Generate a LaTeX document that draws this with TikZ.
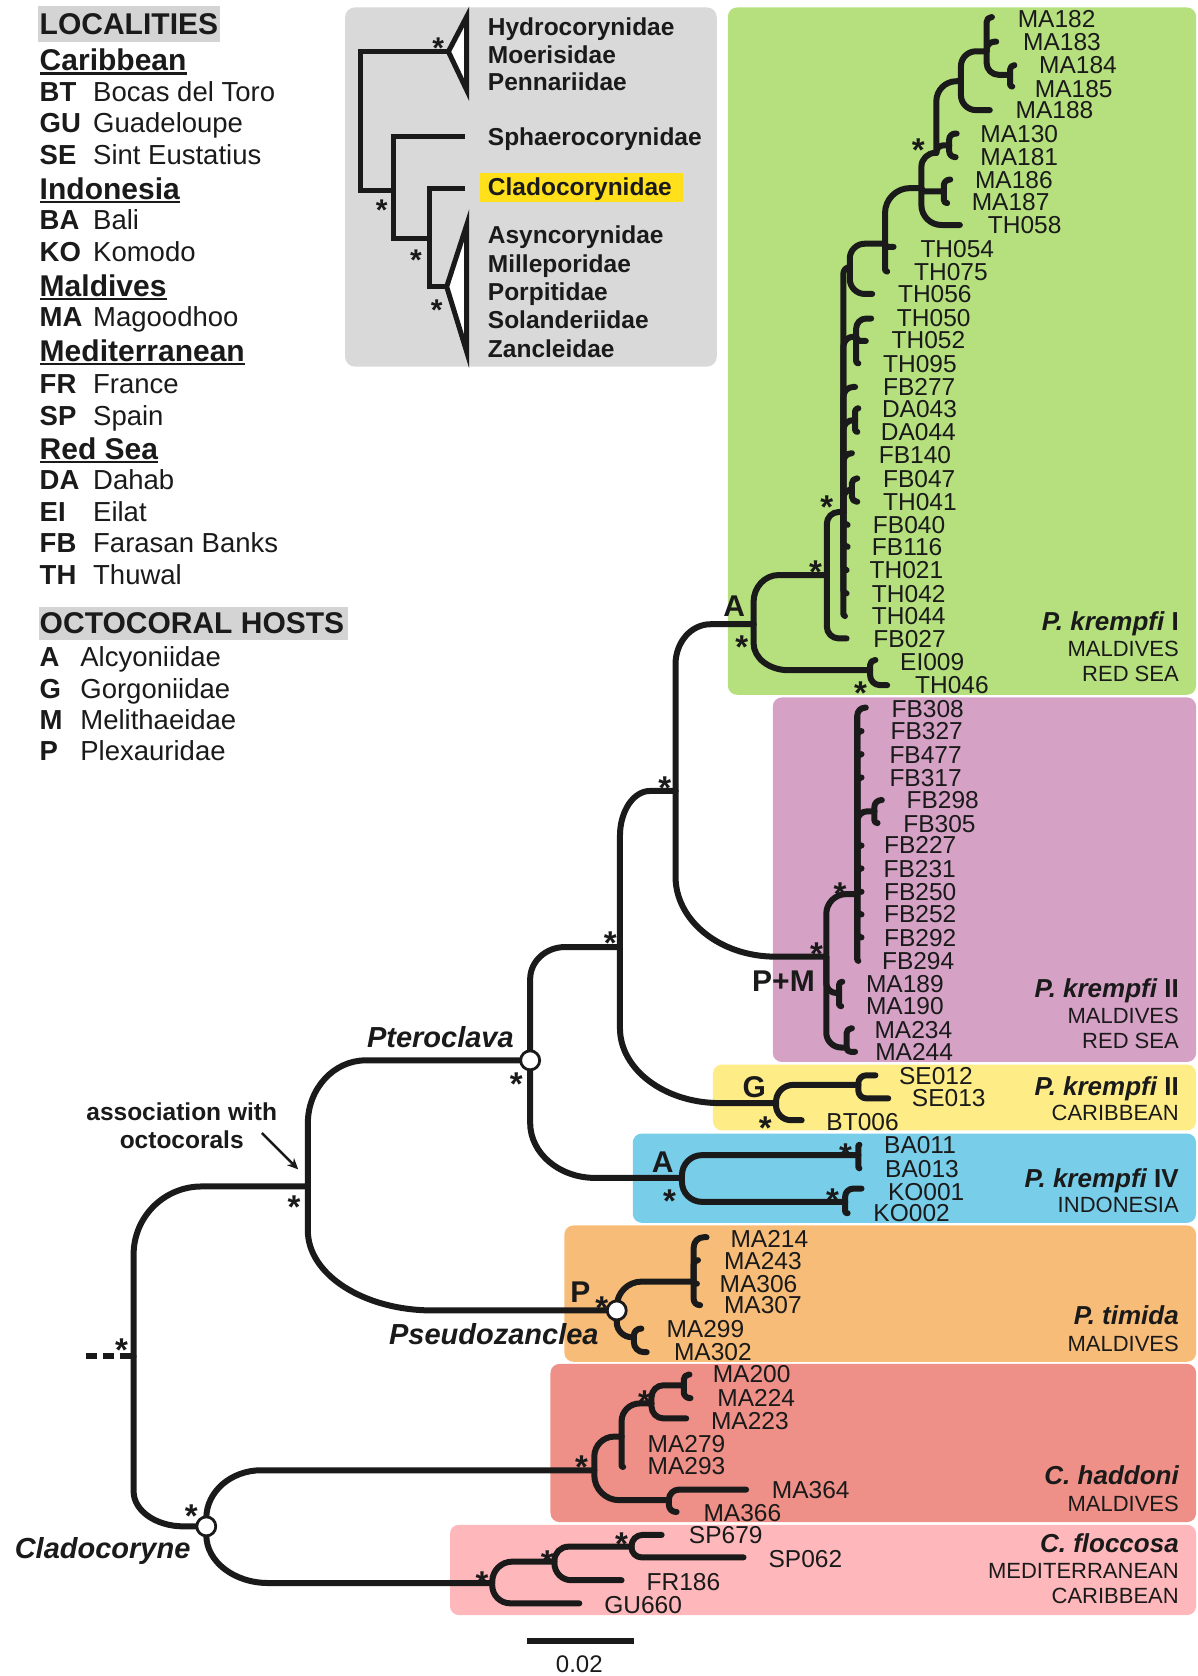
\documentclass[tikz,border=0pt]{standalone}
\usepackage{fontspec}
\setmainfont{Liberation Sans}
\usetikzlibrary{calc,arrows.meta}
\definecolor{cgreen}{HTML}{B6E07E}
\definecolor{cpurple}{HTML}{D5A1C5}
\definecolor{cyellow}{HTML}{FEEC87}
\definecolor{cblue}{HTML}{78CDE9}
\definecolor{corange}{HTML}{F7BC78}
\definecolor{cred}{HTML}{EE9087}
\definecolor{cpink}{HTML}{FEB7BA}
\definecolor{cgray}{HTML}{D9D9D9}
\definecolor{clight}{HTML}{D4D4D4}
\definecolor{chl}{HTML}{FFE01A}
\definecolor{ink}{HTML}{1A1A1A}
\tikzset{
 tree/.style={draw=ink, line width=6pt, line cap=round, line join=round},
 br/.style={to path={let \p1=(\tikztostart), \p2=(\tikztotarget),
   \n1={min(#1,abs((\y2)-(\y1)),abs((\x2)-(\x1)))},
   \n2={ifthenelse((\y1)>(\y2),1,-1)*\n1}
   in -- (\x1,{\y2+(\n2)*1pt})
      .. controls (\x1,{\y2+0.4477*(\n2)*1pt}) and ({\x1+0.4477*(\n1)*1pt},\y2) ..
      ({\x1+(\n1)*1pt},\y2) -- (\x2,\y2)}},
 br/.default=10,
 brr/.style 2 args={to path={let \p1=(\tikztostart), \p2=(\tikztotarget),
   \n3={min(#1,abs((\y2)-(\y1)))},
   \n1={min(#2,abs((\x2)-(\x1)))},
   \n2={ifthenelse((\y1)>(\y2),1,-1)*\n3}
   in -- (\x1,{\y2+(\n2)*1pt})
      .. controls (\x1,{\y2+0.4477*(\n2)*1pt}) and ({\x1+0.4477*(\n1)*1pt},\y2) ..
      ({\x1+(\n1)*1pt},\y2) -- (\x2,\y2)}},
 lf/.style={font=\fontsize{24.5}{26}\selectfont, text=ink, anchor=base west, inner sep=0pt, yshift=-8.8pt},
 ttl/.style={font=\fontsize{26}{28}\selectfont\bfseries, text=ink, anchor=base east, inner sep=0pt, yshift=-9.3pt},
 subt/.style={font=\fontsize{22}{24}\selectfont, text=ink, anchor=base east, inner sep=0pt, yshift=-7.9pt},
 gen/.style={font=\fontsize{29}{31}\selectfont\bfseries\itshape, text=ink, anchor=base, inner sep=0pt, yshift=-10.4pt},
 hostl/.style={font=\fontsize{30}{32}\selectfont\bfseries, text=ink, anchor=base, inner sep=0pt, yshift=-10.7pt},
 ast/.style={font=\fontsize{33}{33}\selectfont\bfseries, text=ink, anchor=base, inner sep=0pt, yshift=-18.5pt},
 iast/.style={font=\fontsize{30}{30}\selectfont\bfseries, text=ink, anchor=base, inner sep=0pt, yshift=-16.8pt},
 hdr/.style={font=\fontsize{30}{32}\selectfont\bfseries, text=ink, anchor=base west, inner sep=0pt, yshift=-10.7pt},
 abb/.style={font=\fontsize{27.5}{30}\selectfont\bfseries, text=ink, anchor=base west, inner sep=0pt, yshift=-9.8pt},
 nam/.style={font=\fontsize{27.5}{30}\selectfont, text=ink, anchor=base west, inner sep=0pt, yshift=-9.8pt},
 fam/.style={font=\fontsize{24.5}{26}\selectfont\bfseries, text=ink, anchor=base west, inner sep=0pt, yshift=-8.8pt},
 assoc/.style={font=\fontsize{24.5}{26}\selectfont\bfseries, text=ink, anchor=base, inner sep=0pt, yshift=-8.8pt},
 circ/.style={circle, draw=ink, fill=white, line width=2.8pt, minimum size=19pt, inner sep=0pt},
 itree/.style={draw=ink, line width=5pt, line join=miter},
}
\begin{document}
\begin{tikzpicture}[x=1.06875pt,y=-1.06875pt]
\useasboundingbox (0,0) rectangle (1120,1568);

% ---------- coloured boxes
\fill[cgray,rounded corners=10pt] (322.8,6.9) rectangle (670.6,343);
\fill[cgreen,rounded corners=9pt] (681,7) rectangle (1119,650);
\fill[cpurple,rounded corners=9pt] (723,652.5) rectangle (1119,993.5);
\fill[cyellow,rounded corners=9pt] (667,996) rectangle (1119,1057.5);
\fill[cblue,rounded corners=9pt] (592,1060.5) rectangle (1119,1144);
\fill[corange,rounded corners=9pt] (528,1146.5) rectangle (1119,1274);
\fill[cred,rounded corners=9pt] (515,1276) rectangle (1119,1424);
\fill[cpink,rounded corners=9pt] (421,1426.5) rectangle (1119,1511);

% ---------- legend
\fill[clight] (36,6) rectangle (206,39);
\fill[clight] (36.8,567.6) rectangle (326,598.8);
\node[hdr] (hLoc) at (37,22) {LOCALITIES};
\node[hdr] (hOct) at (37,583) {OCTOCORAL HOSTS};
\foreach \nm/\yy [count=\i] in {Caribbean/56, Indonesia/176.5, Maldives/267, Mediterranean/328, Red Sea/419.5}{
  \node[hdr] (reg\i) at (37,\yy) {\nm};
  \draw[ink, line width=2.2pt] ([yshift=-3pt]reg\i.base west) -- ([yshift=-3pt]reg\i.base east);
}
\foreach \ab/\nm/\yy in {BT/Bocas del Toro/86, GU/Guadeloupe/115, SE/Sint Eustatius/145, BA/Bali/206, KO/Komodo/235.5, MA/Magoodhoo/296.5, FR/France/359, SP/Spain/388.5, DA/Dahab/449, EI/Eilat/479, FB/Farasan Banks/508, TH/Thuwal/538}{
  \node[abb] (ab\ab) at (37,\yy) {\ab};
  \node[nam] (nm\ab) at (87,\yy) {\nm};
}
\foreach \ab/\nm/\yy in {A/Alcyoniidae/614.5, G/Gorgoniidae/644, M/Melithaeidae/673.5, P/Plexauridae/702}{
  \node[abb] (hab\ab) at (37,\yy) {\ab};
  \node[nam] (hnm\ab) at (75,\yy) {\nm};
}

% ---------- inset tree
\fill[chl] (449.1,161.6) rectangle (639.3,188.7);
\foreach \nm/\yy [count=\i] in {Hydrocorynidae/25, Moerisidae/51.5, Pennariidae/76.4, Sphaerocorynidae/127.9, Cladocorynidae/174.7, Asyncorynidae/219.9, Milleporidae/246.4, Porpitidae/272.9, Solanderiidae/299.4, Zancleidae/325.9}
  \node[fam] (fam\i) at (456.3,\yy) {\nm};
\coordinate (iA1) at (419.5,48.3);
\coordinate (iR1) at (336.8,48.3);
\coordinate (iR2) at (336.8,177.8);
\coordinate (iN2) at (368,177.8);
\coordinate (iN2t) at (368,127.9);
\coordinate (iN2b) at (368,223);
\coordinate (iSph) at (435,127.9);
\coordinate (iN3) at (401.7,223);
\coordinate (iN3t) at (401.7,176.2);
\coordinate (iN3b) at (401.7,268.2);
\coordinate (iCla) at (435,176.2);
\coordinate (iA2) at (417.9,268.2);
\draw[itree] (iA1) -- (iR1) -- (iR2) -- (iN2);
\draw[itree] (iSph) -- (iN2t) -- (iN2b) -- (iN3);
\draw[itree] (iCla) -- (iN3t) -- (iN3b) -- (iA2);
\draw[itree, fill=white] (iA1) -- (436.6,15.6) -- (436.6,84.2) -- cycle;
\draw[itree, fill=white] (iA2) -- (436.6,210.5) -- (436.6,329) -- cycle;
\foreach \xx/\yy [count=\i] in {410/39, 357/190.3, 389.2/237, 408.5/283.8}
  \node[iast] (ia\i) at (\xx,\yy) {*};

% ---------- main tree: internal nodes
\coordinate (stub) at (80,1269);
\coordinate (R0) at (125,1269);
\coordinate (U) at (288,1110);
\coordinate (Clad) at (193,1428);
\coordinate (Ptero) at (496,992);
\coordinate (Pseudo) at (577,1226);
\coordinate (B) at (580,886);
\coordinate (Indo) at (638,1102);
\coordinate (C) at (632,740);
\coordinate (G) at (726,1032);
\coordinate (A) at (705,584);
\coordinate (PM) at (773,895);
% green
\coordinate (K) at (773.5,538);
\coordinate (E) at (814,627);
\coordinate (L) at (789,479);
\coordinate (Nf) at (795,250);
\coordinate (Ne) at (828,228);
\coordinate (Nd) at (862,176);
\coordinate (Nc) at (876,143);
\coordinate (Nb) at (899,76);
\coordinate (Na) at (923,48);
\coordinate (P1) at (945,70);
\coordinate (Q1) at (888,136);
\coordinate (Q2) at (883,179);
\coordinate (G1) at (801,315);
\coordinate (DAn) at (800,393);
\coordinate (FT) at (797,458);
% purple
\coordinate (FBn) at (802,836.5);
\coordinate (FBq) at (818,759);
\coordinate (M1) at (785,929);
\coordinate (M2) at (792,980);
% yellow, blue, orange
\coordinate (SEn) at (803,1015);
\coordinate (BAn) at (803,1080.7);
\coordinate (KOn) at (790.7,1124.4);
\coordinate (MAn4) at (649,1199);
\coordinate (MAn2) at (593,1251);
% red, pink
\coordinate (Ch) at (556,1375.5);
\coordinate (N1) at (581.5,1344);
\coordinate (N2) at (609.5,1313);
\coordinate (Pn) at (639.7,1296);
\coordinate (N3) at (625.8,1403.5);
\coordinate (F1) at (460.5,1481);
\coordinate (F2) at (518.7,1461);
\coordinate (F3) at (590.8,1447);

% ---------- leaf tips
\foreach \nm/\xx/\yy in {MA182/928/16, MA183/932/39, MA184/949/61, MA185/947/81, MA188/926/103,
  MA130/895/125, MA181/894/147, MA186/889/168, MA187/886/190, TH058/898/210.5, TH054/836/231,
  TH075/830/254, TH056/816/275, TH050/815/298, TH052/810/319, TH095/803/340, FB277/800/362,
  DA043/803/382, DA044/802/404, FB140/797/424, FB047/802/447.6, TH041/802/469.4, FB040/793/491,
  FB116/793/511.5, TH021/792/533.3, TH042/792/555.2, TH044/790.5/576.4, FB027/792/597.3,
  EI009/819/617.5, TH046/830/641,
  FB308/810/662, FB327/806/684, FB477/806/705.6, FB317/806/727.4, FB298/825/748.5, FB305/821/770,
  FB227/806/791, FB231/806/812.5, FB250/806/834.3, FB252/806/855.5, FB292/806/877, FB294/803/899,
  MA189/788/918.5, MA190/787/941.3, MA234/797/962, MA244/800/984,
  SE012/819/1006, SE013/831/1027.6, BT006/750/1048,
  BA011/804/1071, BA013/804/1093, KO001/806/1112, KO002/793/1135,
  MA214/661/1157.5, MA243/653/1179, MA306/652/1201, MA307/655/1221, MA299/600/1243, MA302/605/1265,
  MA200/645/1286, MA224/646/1308, MA223/642/1327, MA279/583/1372.4, MA364/698/1393.6, MA366/633/1414.5,
  SP679/619/1436, SP062/695.6/1457, FR186/581.5/1478.4, GU660/542/1500}
  \coordinate (t\nm) at (\xx,\yy);

% ---------- branches
\draw[tree, line cap=butt, dash pattern=on 11pt off 6pt] (stub) -- (R0);
\draw[tree] (R0) to[brr={68}{68}] (U);
\draw[tree] (R0) to[brr={35}{50}] (Clad);
\draw[tree] (U) to[brr={63}{58}] (Ptero);
\draw[tree] (U) to[brr={80}{125}] (Pseudo);
\draw[tree] (Clad) to[brr={48}{55}] (Ch);
\draw[tree] (Clad) to[brr={48}{62}] (F1);
\draw[tree] (Ptero) to[brr={32}{35}] (B);
\draw[tree] (Ptero) to[brr={55}{65}] (Indo);
\draw[tree] (B) to[brr={45}{30}] (C);
\draw[tree] (B) to[brr={75}{100}] (G);
\draw[tree] (C) to[brr={40}{35}] (A);
\draw[tree] (C) to[brr={80}{100}] (PM);
\draw[tree] (A) to[brr={27}{25}] (K);
\draw[tree] (A) to[brr={27}{35}] (E);
\foreach \pa/\ch/\rr in {K/L/12, K/tFB027/12, L/Nf/10, L/G1/10, L/tFB277/10, L/DAn/10, L/tFB140/10, L/FT/10,
  L/tFB040/10, L/tFB116/10, L/tTH021/10, L/tTH042/10, L/tTH044/10,
  Nf/Ne/15, Nf/tTH056/15, Ne/Nd/25, Ne/tTH054/5, Ne/tTH075/5, Nd/Nc/14, Nd/Q2/5, Nd/tTH058/20,
  Nc/Nb/20, Nc/Q1/7, Nb/Na/15, Nb/tMA188/15, Na/tMA182/5, Na/tMA183/8, Na/P1/12,
  P1/tMA184/5, P1/tMA185/5, Q1/tMA130/6, Q1/tMA181/6, Q2/tMA186/6, Q2/tMA187/6,
  G1/tTH050/10, G1/tTH052/5, G1/tTH095/5, DAn/tDA043/3, DAn/tDA044/3, FT/tFB047/5, FT/tTH041/5,
  E/tEI009/5, E/tTH046/10,
  PM/FBn/20, PM/M1/10, PM/M2/15, FBn/tFB308/8, FBn/tFB327/4, FBn/tFB477/4, FBn/tFB317/4, FBn/FBq/10,
  FBn/tFB227/4, FBn/tFB231/4, FBn/tFB250/2, FBn/tFB252/4, FBn/tFB292/4, FBn/tFB294/2,
  FBq/tFB298/7, FBq/tFB305/3, M1/tMA189/3, M1/tMA190/2, M2/tMA234/5, M2/tMA244/4,
  G/SEn/17, G/tBT006/15, SEn/tSE012/8, SEn/tSE013/8,
  Indo/BAn/20, Indo/KOn/20, BAn/tBA011/1, BAn/tBA013/1, KOn/tKO001/8, KOn/tKO002/2,
  Pseudo/MAn4/25, Pseudo/MAn2/15, MAn4/tMA214/10, MAn4/tMA243/4, MAn4/tMA306/3, MAn4/tMA307/6,
  MAn2/tMA299/7, MAn2/tMA302/10,
  Ch/N1/20, Ch/N3/25, N1/N2/18, N1/tMA279/1, N2/Pn/12, N2/tMA223/12, Pn/tMA200/5, Pn/tMA224/6,
  N3/tMA364/10, N3/tMA366/7,
  F1/F2/20, F1/tGU660/18, F2/F3/14, F2/tFR186/17, F3/tSP679/11, F3/tSP062/10}
  \draw[tree] (\pa) to[br=\rr] (\ch);

\node[circ] (cPtero) at (Ptero) {};
\node[circ] (cPseudo) at (Pseudo) {};
\node[circ] (cClad) at (Clad) {};

% ---------- support asterisks
\foreach \xx/\yy [count=\i] in {113.8/1256, 275/1123, 483/1008, 563/1217, 179/1412, 571/876, 622/731,
  694/599, 763/529, 773.5/468, 859/134, 805/642, 764/886, 786/830, 716/1049, 626.5/1117, 791/1074,
  779/1116, 544/1366, 603/1305, 451/1474, 512/1455, 581.5/1438}
  \node[ast] (s\i) at (\xx,\yy) {*};

% ---------- leaf labels
\foreach \nm/\xx/\yy in {MA182/952/17.2, MA183/957/39, MA184/972/60.8, MA185/968/82.7, MA188/950/103,
  MA130/917/124.8, MA181/917/146.6, MA186/912/168.4, MA187/909/188.7, TH058/924/210.5, TH054/861/232.4,
  TH075/855/254, TH056/840/274.5, TH050/839/297, TH052/834/318, TH095/826/340, FB277/826/362,
  DA043/825/382.5, DA044/824/404, FB140/822/425.5, FB047/826/447.6, TH041/826/469.4, FB040/816.5/491,
  FB116/815.6/511.5, TH021/813.4/533.3, TH042/815.6/555.2, TH044/815.6/576.4, FB027/817/597.3,
  EI009/842/619, TH046/856/641,
  FB308/834/662.8, FB327/833/684, FB477/832/705.6, FB317/832/727.4, FB298/848/748.5, FB305/845/770.4,
  FB227/827/790.6, FB231/826.5/812.5, FB250/827/834.3, FB252/827/855.2, FB292/827/877, FB294/825/898.9,
  MA189/810/920, MA190/810/941.3, MA234/818/963, MA244/818.7/984,
  SE012/841/1006, SE013/853/1027, BT006/773/1049.5,
  BA011/827/1071, BA013/828/1093, KO001/830.6/1115, KO002/817/1135,
  MA214/683.3/1158.7, MA243/677.2/1179, MA306/673.1/1200.8, MA307/677.2/1221, MA299/623.4/1243, MA302/630.4/1264.7,
  MA200/666.7/1285.6, MA224/671/1307.5, MA223/665/1328.7, MA279/605.7/1350.5, MA293/605.7/1371.4,
  MA364/722/1393.6, MA366/658/1415,
  SP679/644.4/1436, SP062/718.9/1458, FR186/604.8/1479.3, GU660/565.2/1500.9}
  \node[lf] (l\nm) at (\xx,\yy) {\nm};

% ---------- clade names
\node[ttl] (k1) at (1103,581) {{\itshape P. krempfi} I};
\node[subt] (k1a) at (1103,606.6) {MALDIVES};
\node[subt] (k1b) at (1103,630) {RED SEA};
\node[ttl] (k2) at (1103,924.7) {{\itshape P. krempfi} II};
\node[subt] (k2a) at (1103,949.7) {MALDIVES};
\node[subt] (k2b) at (1103,973.1) {RED SEA};
\node[ttl] (k3) at (1103,1016) {{\itshape P. krempfi} II};
\node[subt] (k3a) at (1103,1041) {CARIBBEAN};
\node[ttl] (k4) at (1103,1102) {{\itshape P. krempfi} IV};
\node[subt] (k4a) at (1103,1127) {INDONESIA};
\node[ttl] (k5) at (1103,1230.4) {\itshape P. timida};
\node[subt] (k5a) at (1103,1257) {MALDIVES};
\node[ttl] (k6) at (1103,1380) {\itshape C. haddoni};
\node[subt] (k6a) at (1103,1406.6) {MALDIVES};
\node[ttl] (k7) at (1103,1444) {\itshape C. floccosa};
\node[subt] (k7a) at (1103,1469) {MEDITERRANEAN};
\node[subt] (k7b) at (1103,1492.5) {CARIBBEAN};

% ---------- genus labels, hosts
\node[gen] (gPt) at (412,970) {Pteroclava};
\node[gen] (gPs) at (462,1248) {Pseudozanclea};
\node[gen] (gCl) at (96,1448) {Cladocoryne};
\node[hostl] (hA1) at (687,567) {A};
\node[hostl] (hPM) at (733,918) {P+M};
\node[hostl] (hG) at (705.6,1017) {G};
\node[hostl] (hA2) at (620,1087) {A};
\node[hostl] (hP) at (543,1209) {P};

% ---------- association arrow
\node[assoc] (as1) at (170,1040) {association with};
\node[assoc] (as2) at (170,1066) {octocorals};
\coordinate (arS) at (245,1060);
\coordinate (arE) at (279,1094);
\draw[ink, line width=2.4pt, -{Stealth[length=11pt,width=10pt]}] (arS) -- (arE);

% ---------- scale bar
\coordinate (sbL) at (493,1535);
\coordinate (sbR) at (593,1535);
\draw[tree, line cap=butt] (sbL) -- (sbR);
\node[font=\fontsize{24}{26}\selectfont, text=ink, anchor=base, inner sep=0pt, yshift=-8.6pt] (sbT) at (542,1557) {0.02};
\end{tikzpicture}
\end{document}
